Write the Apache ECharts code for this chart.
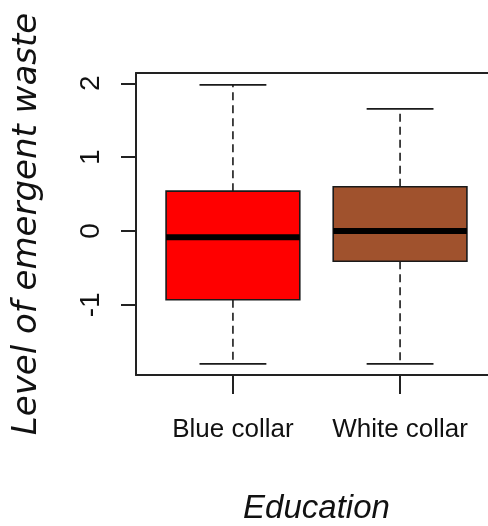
<!DOCTYPE html>
<html>
<head>
<meta charset="utf-8">
<script src="https://cdn.jsdelivr.net/npm/echarts@6/dist/echarts.min.js"></script>
<style>
  html, body { margin: 0; padding: 0; background: #fff; }
  #chart { width: 488px; height: 526px; }
</style>
</head>
<body>
<div id="chart"></div>
<script>
const categories = ['Blue collar', 'White collar'];
const lowerWhisker = [-1.80, -1.80];
const lowerQuartile = [-0.93, -0.41];
const medians = [-0.085, 0.0];
const upperQuartile = [0.54, 0.60];
const upperWhisker = [1.98, 1.655];
const yTicks = [-1, 0, 1, 2];
const xTicks = [1, 2];

const fills = ['#FF0000', '#A0522D'];
const ink = '#1a1a1a';
const frame = { show: true, onZero: false, lineStyle: { color: '#222', width: 2 } };

const chart = echarts.init(document.getElementById('chart'));

function renderBox (params, api) {
  const i = params.dataIndex;
  const x = api.value(0);
  const pt = v => api.coord([x, v]);
  const cx = pt(0)[0];
  const left = api.coord([x - 0.4, 0])[0];
  const right = api.coord([x + 0.4, 0])[0];
  const capL = api.coord([x - 0.2, 0])[0];
  const capR = api.coord([x + 0.2, 0])[0];
  const yLow = pt(api.value(1))[1];
  const yQ1 = pt(api.value(2))[1];
  const yMed = pt(api.value(3))[1];
  const yQ3 = pt(api.value(4))[1];
  const yHigh = pt(api.value(5))[1];
  const dashed = { stroke: ink, lineWidth: 1.6, lineDash: [8, 5] };
  const solid = { stroke: ink, lineWidth: 1.8 };
  return {
    type: 'group',
    children: [
      { type: 'line', shape: { x1: cx, y1: yQ3, x2: cx, y2: yHigh }, style: dashed },
      { type: 'line', shape: { x1: cx, y1: yQ1, x2: cx, y2: yLow }, style: dashed },
      { type: 'line', shape: { x1: capL, y1: yHigh, x2: capR, y2: yHigh }, style: solid },
      { type: 'line', shape: { x1: capL, y1: yLow, x2: capR, y2: yLow }, style: solid },
      { type: 'rect', shape: { x: left, y: yQ3, width: right - left, height: yQ1 - yQ3 },
        style: { fill: fills[i], stroke: ink, lineWidth: 1.6 } },
      { type: 'line', shape: { x1: left, y1: yMed, x2: right, y2: yMed },
        style: { stroke: '#000', lineWidth: 6 } }
    ]
  };
}

const option = {
  animation: false,
  backgroundColor: '#fff',
  grid: {
    left: 136, top: 73, right: -9, bottom: 151,
    outerBoundsMode: 'none',
    containLabel: false,
    show: false
  },
  xAxis: [{
    type: 'value',
    position: 'bottom',
    min: 0.42,
    max: 2.58,
    name: 'Education',
    nameLocation: 'middle',
    nameGap: 117,
    nameTextStyle: {
      fontFamily: 'Liberation Sans', fontStyle: 'italic',
      fontSize: 33, lineHeight: 33, color: '#111', verticalAlign: 'top'
    },
    splitLine: { show: false },
    axisLine: frame,
    axisTick: { show: true, length: 19, customValues: xTicks, lineStyle: { color: '#222', width: 2 } },
    axisLabel: {
      customValues: xTicks,
      formatter: v => categories[Math.round(v) - 1] || '',
      margin: 42,
      fontFamily: 'Liberation Sans',
      fontSize: 26, lineHeight: 26, color: '#111'
    }
  }, {
    type: 'value',
    position: 'top',
    min: 0.42,
    max: 2.58,
    splitLine: { show: false },
    axisLine: frame,
    axisTick: { show: false },
    axisLabel: { show: false }
  }],
  yAxis: {
    type: 'value',
    min: -1.95,
    max: 2.14,
    name: 'Level of emergent waste',
    nameLocation: 'middle',
    nameGap: 92,
    nameRotate: 90,
    nameTextStyle: {
      fontFamily: 'DejaVu Sans', fontStyle: 'italic',
      fontSize: 34, lineHeight: 34, color: '#111'
    },
    splitLine: { show: false },
    axisLine: frame,
    axisTick: { show: true, length: 15, customValues: yTicks, lineStyle: { color: '#222', width: 2 } },
    axisLabel: {
      customValues: yTicks,
      rotate: 90,
      margin: 31,
      fontFamily: 'Liberation Sans',
      fontSize: 28, lineHeight: 28, color: '#111'
    }
  },
  series: [{
    type: 'custom',
    renderItem: renderBox,
    xAxisIndex: 0,
    encode: { x: 0, y: [1, 2, 3, 4, 5] },
    data: categories.map((c, i) => [i + 1, lowerWhisker[i], lowerQuartile[i], medians[i], upperQuartile[i], upperWhisker[i]])
  }]
};

chart.setOption(option);
</script>
</body>
</html>
